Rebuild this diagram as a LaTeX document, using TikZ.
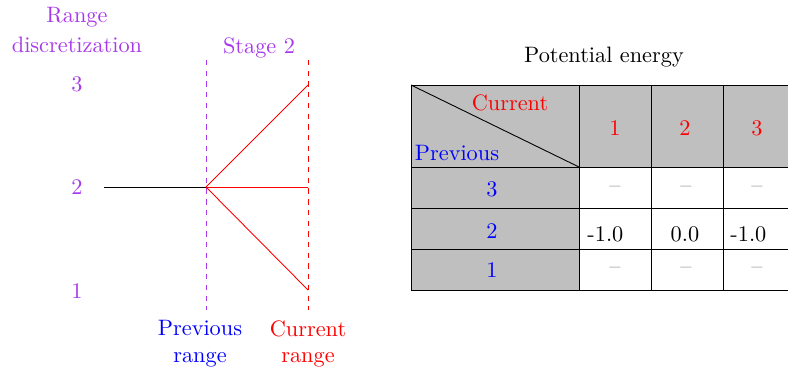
\documentclass[tikz,border=0pt]{standalone}
\usepackage{xcolor}
\definecolor{rpurple}{RGB}{168,56,236}
\definecolor{tgray}{gray}{0.75}
\definecolor{dgray}{gray}{0.45}
\begin{document}
\begin{tikzpicture}[x=0.4484pt,y=-0.4484pt,
  lbl/.style={inner sep=0pt,anchor=center},
  purp/.style={lbl,text=rpurple},
  cell/.style={draw=black,line width=0.4pt},
  vdash/.style={dash pattern=on 2.4pt off 2.4pt,line width=0.4pt}]
\useasboundingbox (0,0) rectangle (788,372);
% left part
\node[purp] (rng) at (77,17) {Range};
\node[purp] (disc) at (77,45) {discretization};
\node[purp] (n3) at (77,84) {3};
\node[purp] (n2) at (77,187) {2};
\node[purp] (n1) at (77,291) {1};
\node[purp] (stage) at (259,48) {Stage 2};
\coordinate (ls) at (104,187);
\coordinate (p) at (206,187);
\coordinate (pt) at (206,60);
\coordinate (pb) at (206,310);
\coordinate (ct) at (308,60);
\coordinate (cb) at (308,310);
\coordinate (c3) at (308,85);
\coordinate (c2) at (308,187);
\coordinate (c1) at (308,290);
\draw[rpurple,vdash] (pt) -- (pb);
\draw[red,vdash] (ct) -- (cb);
\draw[black,line width=0.4pt] (ls) -- (p);
\draw[red,line width=0.4pt] (p) -- (c3);
\draw[red,line width=0.4pt] (p) -- (c2);
\draw[red,line width=0.4pt] (p) -- (c1);
\node[lbl,text=blue,align=center] (prev) at (200,344) {Previous\\range};
\node[lbl,text=red,align=center] (curr) at (308,344) {Current\\range};
% table
\node[lbl] (title) at (604,57) {Potential energy};
\fill[tgray] (411,85) rectangle (795,167);
\fill[tgray] (411,167) rectangle (579,290);
\foreach \xa/\xb in {411/579,579/651,651/723,723/795}
  \foreach \ya/\yb in {85/167,167/208,208/249,249/290}
    \draw[cell] (\xa,\ya) rectangle (\xb,\yb);
\draw[line width=0.4pt] (411,85) -- (579,167);
\node[lbl,text=red] (hc) at (510,103) {Current};
\node[lbl,text=blue] (hp) at (457,153) {Previous};
\node[lbl,text=red] (h1) at (615,128) {1};
\node[lbl,text=red] (h2) at (685,128) {2};
\node[lbl,text=red] (h3) at (757,128) {3};
\node[lbl,text=blue] (r3) at (492,189) {3};
\node[lbl,text=blue] (r2) at (492,231) {2};
\node[lbl,text=blue] (r1) at (492,270) {1};
\foreach \xx/\nm in {615/a,686/b,757/c}{
  \node[lbl,text=dgray] (d3\nm) at (\xx,189) {--};
  \node[lbl,text=dgray] (d1\nm) at (\xx,270) {--};
}
\node[lbl,anchor=west] (v1) at (587,234) {-1.0};
\node[lbl] (v2) at (685,234) {0.0};
\node[lbl,anchor=west] (v3) at (730,234) {-1.0};
\end{tikzpicture}
\end{document}
